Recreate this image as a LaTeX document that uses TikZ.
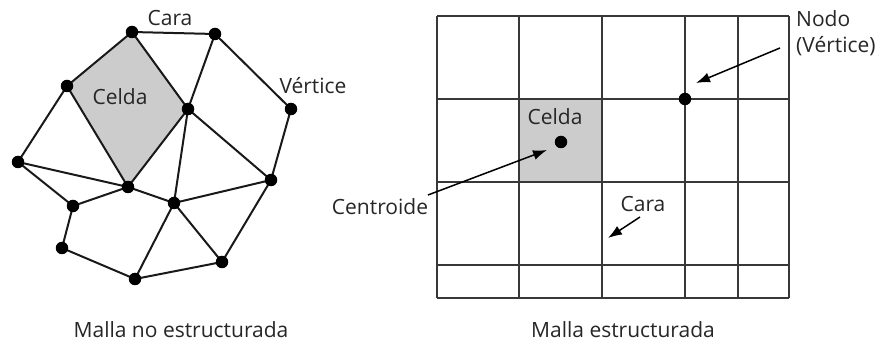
\documentclass[tikz,border=0pt]{standalone}
\usepackage{fontspec}
\setmainfont{Open Sans}
\usetikzlibrary{arrows.meta}
\begin{document}
\begin{tikzpicture}[x=1pt,y=-1pt,
  edge/.style={line width=2pt,color=black!90},
  grid/.style={line width=1.8pt,color=black!78},
  vtx/.style={circle,fill=black,inner sep=0pt,minimum size=12.5pt},
  lbl/.style={font=\fontsize{21}{26}\selectfont,text=black!85,inner sep=0pt,anchor=base},
  arr/.style={line width=1.5pt,-{Latex[length=14pt,width=10pt]}}]
\useasboundingbox (0,0) rectangle (881,344);
% ---- left unstructured mesh
\coordinate (A) at (132,32);
\coordinate (B) at (215,34);
\coordinate (C) at (67,86);
\coordinate (D) at (188,109);
\coordinate (E) at (291,109);
\coordinate (F) at (18,162);
\coordinate (G) at (128,187);
\coordinate (H) at (271,180);
\coordinate (I) at (73,206);
\coordinate (J) at (174,203);
\coordinate (K) at (62,248);
\coordinate (L) at (222,262);
\coordinate (M) at (135,279);
\fill[black!20] (A) -- (C) -- (G) -- (D) -- cycle;
\draw[edge] (A)--(B) (A)--(C) (A)--(D) (B)--(D) (B)--(E) (C)--(G) (D)--(G)
  (C)--(F) (F)--(G) (F)--(I) (I)--(G) (G)--(J) (D)--(J) (D)--(H) (E)--(H)
  (H)--(J) (H)--(L) (J)--(L) (J)--(M) (I)--(K) (K)--(M) (M)--(L);
\foreach \p in {A,B,C,D,E,F,G,H,I,J,K,L,M} \node[vtx] (v\p) at (\p) {};
\node[lbl] (cara1) at (170,26) {Cara};
\node[lbl] (vert1) at (313,94) {Vértice};
\node[lbl] (celda1) at (120,105) {Celda};
\node[lbl] (t1) at (181,338) {Malla no estructurada};
% ---- right structured mesh
\fill[black!20] (519,99) rectangle (602,182);
\foreach \x in {437,519,602,685,738,789} \draw[grid] (\x,16) -- (\x,298);
\foreach \y in {16,99,182,265,298} \draw[grid] (437,\y) -- (789,\y);
\node[vtx] (cen) at (561,142) {};
\node[vtx] (nod) at (685,99) {};
\node[lbl] (celda2) at (555,125) {Celda};
\node[lbl,anchor=base west,align=left] (nodo) at (796,53) {Nodo\\(Vértice)};
\node[lbl] (centroide) at (380,215) {Centroide};
\node[lbl] (cara2) at (643,212) {Cara};
\coordinate (nodoS) at (780,48);
\coordinate (nodoE) at (696,83);
\coordinate (cenS) at (428,195);
\coordinate (cenE) at (547,150);
\coordinate (caraS) at (640,217);
\coordinate (caraE) at (608,238);
\draw[arr] (nodoS) -- (nodoE);
\draw[arr] (cenS) -- (cenE);
\draw[arr] (caraS) -- (caraE);
\node[lbl] (t2) at (623,338) {Malla estructurada};
\end{tikzpicture}
\end{document}
